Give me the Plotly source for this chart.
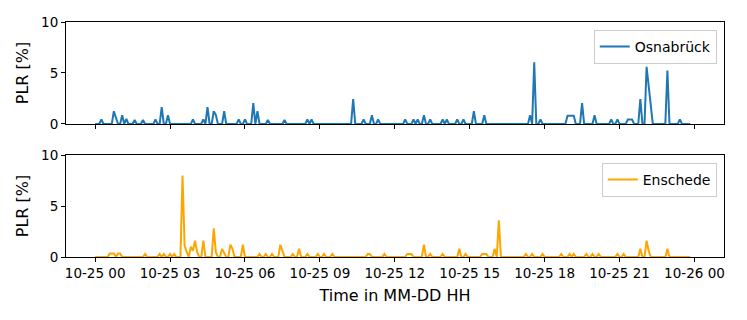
import pandas as pd
import plotly.graph_objects as go
from plotly.subplots import make_subplots

# PLR spikes (time of day on 2023-10-25, value in %), everything else is 0
osn_times = ["00:15", "00:45", "00:50", "01:05", "01:15", "01:35", "01:55", "02:25", "02:40", "02:55",
             "03:55", "04:20", "04:30", "04:45", "04:50", "05:10", "05:45", "06:00", "06:20", "06:30",
             "06:55", "07:35", "08:30", "08:40", "10:20", "10:45", "11:05", "11:20", "12:25", "12:45",
             "12:55", "13:10", "13:25", "13:55", "14:05", "14:30", "14:45", "15:10", "15:35", "17:25",
             "17:35", "17:50", "18:55", "19:00", "19:05", "19:10", "19:30", "20:00", "20:40", "20:55",
             "21:20", "21:25", "21:30", "21:50", "22:05", "22:55", "23:25"]
osn_values = [0.45, 1.25, 0.5, 0.85, 0.5, 0.4, 0.4, 0.45, 1.65, 0.85,
              0.45, 0.45, 1.65, 1.25, 0.9, 1.25, 0.45, 0.45, 2.05, 1.25,
              0.4, 0.4, 0.45, 0.45, 2.45, 0.45, 0.85, 0.45, 0.45, 0.45,
              0.45, 0.85, 0.45, 0.45, 0.45, 0.45, 0.45, 1.25, 0.85, 0.85,
              6.05, 0.45, 0.8, 0.8, 0.8, 0.8, 2.05, 0.85, 0.45, 0.45,
              0.45, 0.45, 0.45, 2.45, 5.6, 5.25, 0.45]
osn_missing = ["22:10", "22:15"]

ens_times = ["00:35", "00:40", "00:45", "00:55", "01:00", "02:00", "02:35", "02:45", "03:00", "03:10",
             "03:30", "03:35", "03:40", "03:50", "03:55", "04:00", "04:05", "04:20", "04:45", "04:50",
             "05:05", "05:10", "05:25", "05:30", "05:55", "06:35", "06:50", "07:05", "07:25", "07:30",
             "07:55", "08:10", "08:30", "08:55", "09:10", "09:30", "10:55", "11:00", "11:35", "12:30",
             "12:35", "12:40", "13:10", "13:25", "13:55", "14:35", "14:50", "15:30", "15:35", "15:40",
             "16:00", "16:10", "17:15", "17:30", "17:55", "18:40", "19:00", "19:10", "19:40", "19:55",
             "20:10", "20:55", "21:10", "21:50", "22:05", "22:10", "22:55"]
ens_values = [0.35, 0.35, 0.35, 0.35, 0.35, 0.3, 0.3, 0.3, 0.3, 0.3,
              8.0, 1.1, 0.5, 1.0, 0.6, 1.6, 0.5, 1.6, 2.8, 0.5,
              0.8, 0.4, 1.2, 0.8, 1.2, 0.3, 0.3, 0.3, 1.2, 0.5,
              0.3, 0.8, 0.3, 0.3, 0.3, 0.3, 0.3, 0.3, 0.3, 0.3,
              0.3, 0.3, 1.2, 0.3, 0.3, 0.8, 0.3, 0.3, 0.3, 0.3,
              0.8, 3.6, 0.3, 0.3, 0.3, 0.3, 0.3, 0.3, 0.3, 0.3,
              0.3, 0.3, 0.3, 0.8, 1.6, 0.6, 0.8]

day = "2023-10-25 "
grid = pd.date_range(day + "00:00", day + "23:50", freq="5min")


def build(times, values, missing=()):
    s = pd.Series(0.0, index=grid)
    s[pd.to_datetime([day + t for t in times])] = values
    return s.drop(pd.to_datetime([day + t for t in missing]))


osn = build(osn_times, osn_values, osn_missing)
ens = build(ens_times, ens_values)

fig = make_subplots(rows=2, cols=1, shared_xaxes=True, vertical_spacing=0.132)
fig.add_trace(go.Scatter(x=osn.index, y=osn.values, mode="lines", name="Osnabrück",
                         line=dict(color="#1f77b4", width=2), legend="legend", showlegend=True),
              row=1, col=1)
fig.add_trace(go.Scatter(x=ens.index, y=ens.values, mode="lines", name="Enschede",
                         line=dict(color="#FFA500", width=2), legend="legend2", showlegend=True),
              row=2, col=1)

font = dict(family="DejaVu Sans", size=13.5, color="black")
leg = dict(xanchor="right", x=0.989, yanchor="top", bgcolor="rgba(255,255,255,0.8)",
           bordercolor="#cccccc", borderwidth=1, font=dict(font, size=14), itemwidth=30)

fig.update_layout(
    width=747, height=320,
    margin=dict(l=66, r=23, t=22, b=63, autoexpand=False),
    plot_bgcolor="white", paper_bgcolor="white",
    font=font,
    showlegend=True,
    legend=dict(leg, y=0.966),
    legend2=dict(leg, y=0.40),
)

axis = dict(showline=True, linecolor="black", linewidth=1, mirror=True, ticks="outside",
            ticklen=4, tickcolor="black", showgrid=False, zeroline=False, automargin=False)
fig.update_xaxes(axis, type="date", range=["2023-10-24 22:50", "2023-10-26 01:11"],
                 tick0="2023-10-25 00:00", dtick=3 * 3600 * 1000, tickformat="%m-%d %H")
fig.update_xaxes(title_text="Time in MM-DD HH", title_standoff=9, row=2, col=1)
fig.update_yaxes(axis, range=[0, 10], tickvals=[0, 5, 10], title_text="PLR [%]", title_standoff=8)

# page body has a default 8px margin, remove it so the figure sits at 0,0
fig.write_html("out.html", config={"displayModeBar": False},
               post_script="document.body.style.margin='0';")
